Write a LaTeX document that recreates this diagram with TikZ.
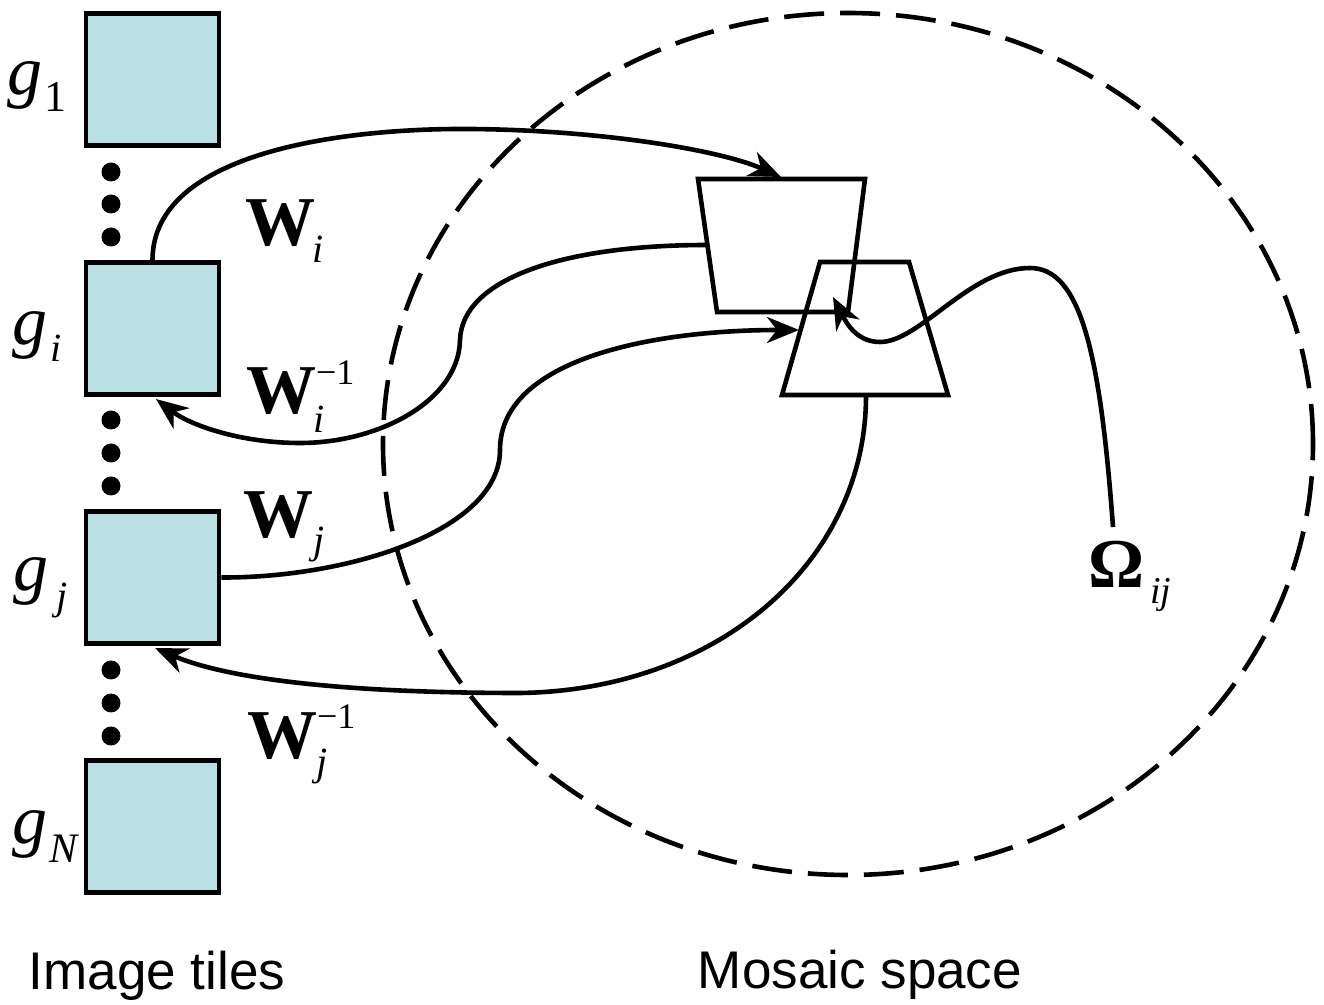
\documentclass[tikz,border=0pt]{standalone}
\usepackage{fontspec}
\setmainfont{Liberation Serif}
\newfontfamily\labelsans{Liberation Sans}
\usetikzlibrary{arrows.meta}
\definecolor{tilefill}{RGB}{185,224,227}
\newcommand\myfs[1]{\fontsize{#1}{#1}\selectfont}
\begin{document}
\begin{tikzpicture}[x=0.5pt,y=-0.5pt,
  tile/.style={draw, line width=2.3pt, fill=tilefill, minimum width=66.5pt, minimum height=66pt, inner sep=0pt},
  dot/.style={circle, fill=black, inner sep=0pt, minimum size=9.5pt},
  lbl/.style={anchor=base west, inner sep=0pt, outer sep=0pt},
  conn/.style={line width=2.3pt},
  arr/.style={conn, -{Stealth[length=16pt,width=13pt,inset=5pt]}},
  trap/.style={line width=2.3pt, line join=miter},
  caption/.style={anchor=base, inner sep=0pt, font=\labelsans\myfs{26.5}}
]
\useasboundingbox (0,0) rectangle (1324,1005);

% tiles
\node[tile] (g1) at (152.5,79.5) {};
\node[tile] (gi) at (152.5,328.5) {};
\node[tile] (gj) at (152.5,577.5) {};
\node[tile] (gN) at (152.5,826.5) {};

% dots
\foreach \y [count=\k] in {172,204,237,420,453,486,670,703,736}
  \node[dot] (d\k) at (111,\y) {};

% mosaic space
\draw[line width=2.3pt, dash pattern=on 20pt off 8pt] (848,444) ellipse [x radius=232.5pt, y radius=215.5pt];

% warped tiles
\draw[trap] (698,179) coordinate (A1) -- (865,179) coordinate (A2) -- (848,312) coordinate (A3) -- (717,312) coordinate (A4) -- cycle;
\draw[trap] (820,262) coordinate (B1) -- (909,262) coordinate (B2) -- (948,395) coordinate (B3) -- (782,395) coordinate (B4) -- cycle;

% connection points
\coordinate (AtopIn) at (781,177);
\coordinate (AleftOut) at (707,245);
\coordinate (BleftIn) at (799,330);
\coordinate (BbotOut) at (866,396);
\coordinate (OmegaEnd) at (1113,527);
\coordinate (Bin) at (833,297);
\coordinate (giIn) at (156,399);
\coordinate (gjIn) at (155,648);

% connectors
\draw[arr] (gi.north) .. controls (152.5,150) and (350,128) .. (470,129)
  .. controls (600,130) and (720,150) .. (AtopIn);
\draw[arr] (AleftOut) .. controls (560,245) and (462,280) .. (460,340)
  .. controls (459,400) and (380,443) .. (300,443)
  .. controls (240,443) and (190,425) .. (giIn);
\draw[arr] (gj.east) .. controls (350,578) and (500,530) .. (500,450)
  .. controls (500,360) and (650,330) .. (BleftIn);
\draw[arr] (BbotOut) .. controls (866,560) and (720,690) .. (520,693)
  .. controls (350,693) and (230,680) .. (gjIn);
\draw[arr] (OmegaEnd) .. controls (1100,350) and (1080,268) .. (1030,268)
  .. controls (970,268) and (920,342) .. (880,342)
  .. controls (855,342) and (845,320) .. (Bin);

% tile labels
\node[lbl, font=\myfs{35}\itshape] (g1l) at (8,95) {g};
\node[lbl, font=\myfs{22}] (g1s) at (44,112) {1};
\node[lbl, font=\myfs{35}\itshape] (gil) at (12,345) {g};
\node[lbl, font=\myfs{20}\itshape] (gis) at (50,362) {i};
\node[lbl, font=\myfs{35}\itshape] (gjl) at (13,591) {g};
\node[lbl, font=\myfs{20}\itshape] (gjs) at (56,610) {j};
\node[lbl, font=\myfs{35}\itshape] (gNl) at (12,843) {g};
\node[lbl, font=\myfs{21}\itshape] (gNs) at (49,862) {N};

% warp labels
\node[lbl, font=\myfs{35}\bfseries] (Wi) at (245,246) {W};
\node[lbl, font=\myfs{20}\itshape] (Wis) at (312,263) {i};
\node[lbl, font=\myfs{35}\bfseries] (Wii) at (246,414) {W};
\node[lbl, font=\myfs{20}\itshape] (Wiis) at (313,433) {i};
\node[lbl, font=\myfs{18}] (Wiip) at (316,385) {−1};
\node[lbl, font=\myfs{35}\bfseries] (Wj) at (243,538) {W};
\node[lbl, font=\myfs{20}\itshape] (Wjs) at (313,554) {j};
\node[lbl, font=\myfs{35}\bfseries] (Wji) at (247,759) {W};
\node[lbl, font=\myfs{20}\itshape] (Wjis) at (316,776) {j};
\node[lbl, font=\myfs{18}] (Wjip) at (317,729) {−1};
\node[lbl, font=\myfs{35}\bfseries] (Om) at (1088,588) {Ω};
\node[lbl, font=\myfs{19}\itshape] (Oms) at (1150,604) {ij};

% captions
\node[caption] (cap1) at (157,989) {Image tiles};
\node[caption] (cap2) at (860,988) {Mosaic space};
\end{tikzpicture}
\end{document}
